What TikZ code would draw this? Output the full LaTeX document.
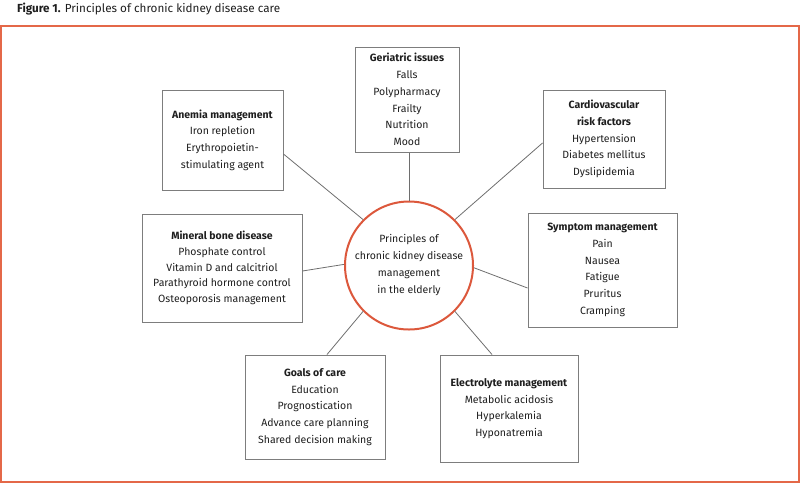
\documentclass[tikz,border=0pt]{standalone}
\usepackage{fontspec}
\setmainfont{Fira Sans}
\definecolor{framecol}{RGB}{228,104,72}
\definecolor{circcol}{RGB}{220,88,60}
\definecolor{boxgray}{RGB}{125,125,125}
\definecolor{linegray}{RGB}{110,110,110}
\definecolor{txt}{RGB}{30,30,30}
\begin{document}
\begin{tikzpicture}[x=1pt,y=-1pt,
  box/.style={draw=boxgray,line width=1pt,align=center,inner sep=0pt,text=txt,
    font=\fontsize{10.5}{16.7}\selectfont},
  link/.style={draw=linegray,line width=0.8pt},
  hub/.style={circle,draw=circcol,line width=2pt,inner sep=0pt,minimum size=128pt,
    align=center,text=txt,font=\fontsize{10.5}{17}\selectfont}]
\useasboundingbox (0,0) rectangle (800,483);
\draw[framecol,line width=2pt] (1,26) rectangle (799,482);
\node[anchor=west,inner sep=0pt,text=txt,font=\fontsize{11.7}{14}\selectfont] (title) at (17,9)
  {\textbf{Figure 1.} Principles of chronic kidney disease care};

\node[hub] (circ) at (409,265.5)
  {Principles of\\chronic kidney disease\\management\\in the elderly};

\node[box,minimum width=104pt,minimum height=105pt] (geri) at (407,99.5)
  {\textbf{Geriatric issues}\\Falls\\Polypharmacy\\Frailty\\Nutrition\\Mood};
\node[box,minimum width=121pt,minimum height=100pt] (anemia) at (222.5,140)
  {\textbf{Anemia management}\\Iron repletion\\Erythropoietin-\\stimulating agent};
\node[box,minimum width=122pt,minimum height=98pt] (cardio) at (604,139)
  {\textbf{Cardiovascular}\\\textbf{risk factors}\\Hypertension\\Diabetes mellitus\\Dyslipidemia};
\node[box,minimum width=160pt,minimum height=108pt,font=\fontsize{10.5}{15.7}\selectfont] (mineral) at (222,268)
  {\textbf{Mineral bone disease}\\Phosphate control\\Vitamin D and calcitriol\\Parathyroid hormone control\\Osteoporosis management};
\node[box,minimum width=149pt,minimum height=114pt] (symptom) at (602.5,270)
  {\textbf{Symptom management}\\Pain\\Nausea\\Fatigue\\Pruritus\\Cramping};
\node[box,minimum width=140pt,minimum height=104pt] (goals) at (315,407)
  {\textbf{Goals of care}\\Education\\Prognostication\\Advance care planning\\Shared decision making};
\node[box,minimum width=138pt,minimum height=107pt] (electro) at (509,408.5)
  {\textbf{Electrolyte management}\\Metabolic acidosis\\Hyperkalemia\\Hyponatremia};

\draw[link] (circ.north) -- (circ.north |- geri.south);
\draw[link] (circ.135) -- ([yshift=-14pt]anemia.east);
\draw[link] (circ.45) -- ([yshift=-4pt]cardio.west);
\draw[link] (circ.179) -- ([yshift=-3pt]mineral.east);
\draw[link] (circ.-2) -- ([yshift=-18pt]symptom.west);
\draw[link] (circ.225) -- ([xshift=12pt]goals.north);
\draw[link] (circ.315) -- ([xshift=-17pt]electro.north);
\end{tikzpicture}
\end{document}
